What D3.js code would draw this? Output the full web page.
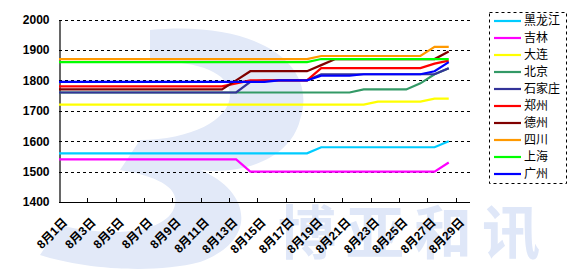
<!DOCTYPE html>
<html>
<head>
<meta charset="utf-8">
<script src="https://cdn.jsdelivr.net/npm/d3@7"></script>
<style>
  body { margin: 0; background: #fff; }
  svg { display: block; }
</style>
</head>
<body>
<div class="chart"></div>
<script>
var svgWidth = 571;
var svgHeight = 276;

// plot box (pixels)
var plot = { left: 59, right: 470, top: 19.5, bottom: 202 };

// categories: 8月1日 .. 8月29日
var days = ["8月1日","8月2日","8月3日","8月4日","8月5日","8月6日","8月7日","8月8日","8月9日","8月10日",
  "8月11日","8月12日","8月13日","8月14日","8月15日","8月16日","8月17日","8月18日","8月19日","8月20日",
  "8月21日","8月22日","8月23日","8月24日","8月25日","8月26日","8月27日","8月28日","8月29日"];

var yTicks = [1400, 1500, 1600, 1700, 1800, 1900, 2000];

// series values, one per day from 8月1日 to 8月28日
var heilongjiang = [1560,1560,1560,1560,1560,1560,1560,1560,1560,1560,1560,1560,1560,1560,1560,1560,1560,1560,1580,1580,1580,1580,1580,1580,1580,1580,1580,1600];
var jilin        = [1540,1540,1540,1540,1540,1540,1540,1540,1540,1540,1540,1540,1540,1500,1500,1500,1500,1500,1500,1500,1500,1500,1500,1500,1500,1500,1500,1530];
var dalian       = [1720,1720,1720,1720,1720,1720,1720,1720,1720,1720,1720,1720,1720,1720,1720,1720,1720,1720,1720,1720,1720,1720,1730,1730,1730,1730,1740,1740];
var beijing      = [1760,1760,1760,1760,1760,1760,1760,1760,1760,1760,1760,1760,1760,1760,1760,1760,1760,1760,1760,1760,1760,1770,1770,1770,1770,1790,1820,1840];
var shijiazhuang = [1760,1760,1760,1760,1760,1760,1760,1760,1760,1760,1760,1760,1760,1795,1800,1800,1800,1800,1820,1820,1820,1820,1820,1820,1820,1820,1820,1840];
var zhengzhou    = [1780,1780,1780,1780,1780,1780,1780,1780,1780,1780,1780,1780,1790,1800,1800,1800,1800,1800,1840,1840,1840,1840,1840,1840,1840,1840,1855,1865];
var dezhou       = [1770,1770,1770,1770,1770,1770,1770,1770,1770,1770,1770,1770,1800,1830,1830,1830,1830,1830,1850,1870,1870,1870,1870,1870,1870,1870,1870,1895];
var sichuan      = [1870,1870,1870,1870,1870,1870,1870,1870,1870,1870,1870,1870,1870,1870,1870,1870,1870,1870,1880,1880,1880,1880,1880,1880,1880,1880,1910,1910];
var shanghai     = [1860,1860,1860,1860,1860,1860,1860,1860,1860,1860,1860,1860,1860,1860,1860,1860,1860,1860,1870,1870,1870,1870,1870,1870,1870,1870,1870,1870];
var guangzhou    = [1795,1795,1795,1795,1795,1795,1795,1795,1795,1795,1795,1795,1795,1795,1795,1800,1800,1800,1815,1815,1815,1820,1820,1820,1820,1820,1830,1860];

var seriesNames  = ["黑龙江","吉林","大连","北京","石家庄","郑州","德州","四川","上海","广州"];
var seriesColors = ["#00ccff","#ff00ff","#ffff00","#339966","#333399","#ff0000","#800000","#ff9900","#00ff00","#0000ff"];
var seriesValues = [heilongjiang, jilin, dalian, beijing, shijiazhuang, zhengzhou, dezhou, sichuan, shanghai, guangzhou];

var svg = d3.select(".chart")
  .append("svg")
  .attr("width", svgWidth)
  .attr("height", svgHeight);

/***************************************************************************/
// faint watermark behind the chart
var mark = svg.append("g").attr("class", "watermark");
mark.append("path")
  .attr("d", "M150,30 C250,20 320,60 300,120 C290,160 240,175 200,170 C250,190 260,240 200,262 C150,275 80,268 40,255 L60,225 C120,240 170,230 175,205 C180,185 150,175 120,170 L140,140 C190,140 230,120 230,95 C230,70 190,60 150,62 Z")
  .attr("fill", "#e2e9f8");
mark.append("text")
  .attr("x", 278)
  .attr("y", 254)
  .attr("font-family", "Noto Sans CJK SC")
  .attr("font-weight", "bold")
  .attr("font-size", 58)
  .attr("letter-spacing", 10)
  .attr("fill", "#dfe7f8")
  .text("博亚和讯");

/***************************************************************************/
// scales
var xBand = d3.scaleBand()
  .domain(days)
  .range([plot.left, plot.right])
  .padding(0);

var xCenter = d => xBand(d) + xBand.bandwidth() / 2;

var yLinearScale = d3.scaleLinear()
  .domain([1400, 2000])
  .range([plot.bottom, plot.top]);

// dashed gridlines
svg.append("g")
  .selectAll("line")
  .data(yTicks.slice(1))
  .enter()
  .append("line")
  .attr("x1", plot.left)
  .attr("x2", plot.right)
  .attr("y1", d => Math.round(yLinearScale(d)) + 0.5)
  .attr("y2", d => Math.round(yLinearScale(d)) + 0.5)
  .attr("stroke", "#000")
  .attr("stroke-width", 1)
  .attr("stroke-dasharray", "3,3");

// y axis
var leftAxis = d3.axisLeft(yLinearScale)
  .tickValues(yTicks)
  .tickSize(0)
  .tickPadding(10)
  .tickFormat(d3.format("d"));

var yAxis = svg.append("g")
  .attr("transform", `translate(${plot.left + 0.5}, 0)`)
  .call(leftAxis);

yAxis.select(".domain").attr("stroke", "#000").attr("stroke-width", 1.2);
yAxis.selectAll("text")
  .attr("font-family", "Liberation Sans, Arial, sans-serif")
  .attr("font-weight", "bold")
  .attr("font-size", 12)
  .attr("fill", "#000");

// x axis: ticks every second category, on the category boundaries
var xAxisG = svg.append("g");
xAxisG.append("line")
  .attr("x1", plot.left)
  .attr("x2", plot.right)
  .attr("y1", plot.bottom + 0.5)
  .attr("y2", plot.bottom + 0.5)
  .attr("stroke", "#000")
  .attr("stroke-width", 1.2);

var tickDays = days.filter((d, i) => i % 2 === 0 && i > 0);
xAxisG.selectAll(".tick")
  .data(tickDays)
  .enter()
  .append("line")
  .attr("class", "tick")
  .attr("x1", d => Math.round(xBand(d)) + 0.5)
  .attr("x2", d => Math.round(xBand(d)) + 0.5)
  .attr("y1", plot.bottom)
  .attr("y2", plot.bottom - 4)
  .attr("stroke", "#000");

var labelDays = days.filter((d, i) => i % 2 === 0);
xAxisG.selectAll(".xlabel")
  .data(labelDays)
  .enter()
  .append("text")
  .attr("class", "xlabel")
  .attr("text-anchor", "end")
  .attr("transform", d => `translate(${xCenter(d) + 2}, ${plot.bottom + 21}) rotate(-45)`)
  .attr("font-family", "Liberation Sans, Noto Sans CJK SC, sans-serif")
  .attr("font-weight", "bold")
  .attr("font-size", 12)
  .attr("fill", "#000")
  .text(d => d);

/***************************************************************************/
// series lines (first segment runs back to the value axis)
var line = d3.line()
  .x(d => d[0])
  .y(d => yLinearScale(d[1]));

var linesGroup = svg.append("g");
seriesValues.forEach(function(vals, s) {
  var pts = vals.map((v, i) => [xCenter(days[i]), v]);
  pts.unshift([xBand.range()[0], vals[0]]);
  linesGroup.append("path")
    .attr("d", line(pts))
    .attr("fill", "none")
    .attr("stroke", seriesColors[s])
    .attr("stroke-width", 2.2);
});

/***************************************************************************/
// legend
var legend = svg.append("g").attr("transform", "translate(489, 12)");
legend.append("rect")
  .attr("x", 0.5)
  .attr("y", 0.5)
  .attr("width", 77)
  .attr("height", 171)
  .attr("fill", "#fff")
  .attr("stroke", "#000")
  .attr("stroke-dasharray", "3,3");

var legendItems = legend.selectAll(".item")
  .data(seriesNames)
  .enter()
  .append("g")
  .attr("class", "item")
  .attr("transform", (d, i) => `translate(0, ${9 + i * 17})`);

legendItems.append("line")
  .attr("x1", 5)
  .attr("x2", 32)
  .attr("stroke", (d, i) => seriesColors[i])
  .attr("stroke-width", 2.2);

legendItems.append("text")
  .attr("x", 35)
  .attr("dy", "0.36em")
  .attr("font-family", "Noto Sans CJK SC, sans-serif")
  .attr("font-size", 12)
  .attr("fill", "#000")
  .text(d => d);
</script>
</body>
</html>
